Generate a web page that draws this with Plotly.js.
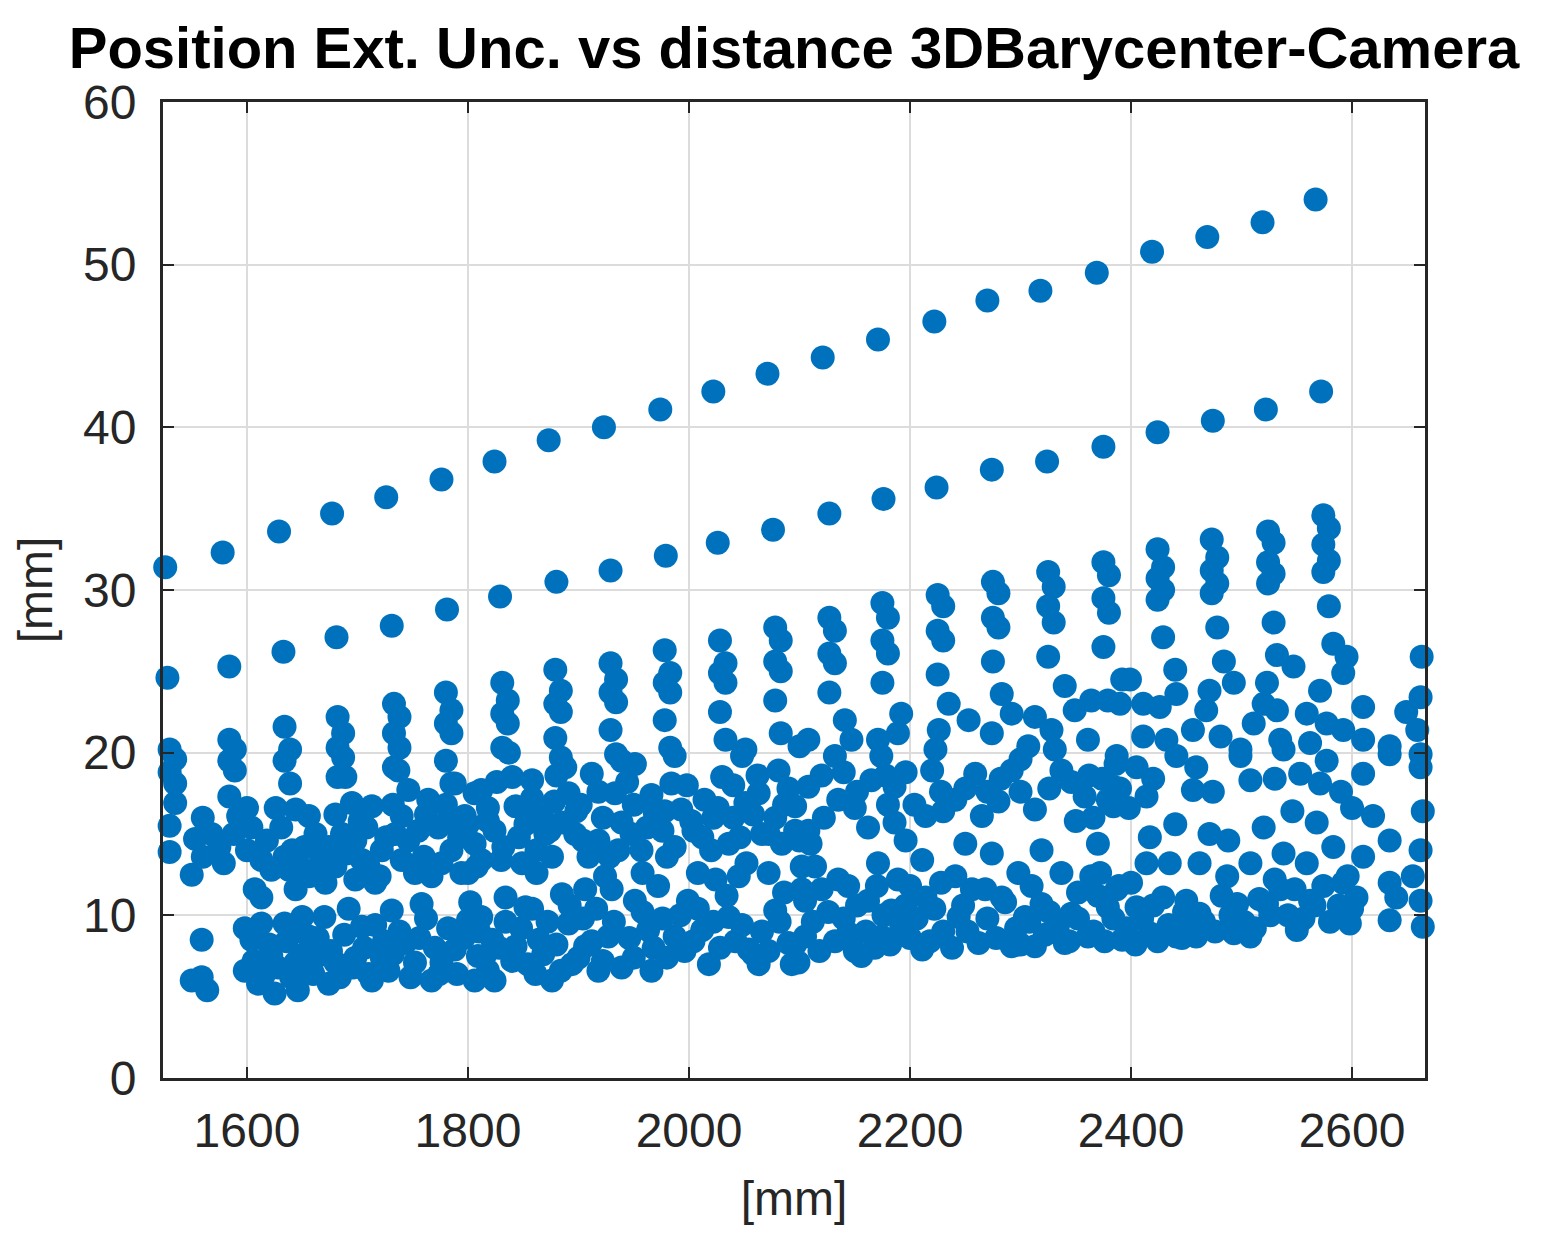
<!DOCTYPE html>
<html>
<head>
<meta charset="utf-8">
<script src="https://cdn.plot.ly/plotly-3.0.1.min.js"></script>
<style>
  html, body { margin: 0; padding: 0; background: #fff; }
  #chart { width: 1557px; height: 1255px; }
</style>
</head>
<body>
<div id="chart"></div>
<script>
// two straight "lines" of points at the top
var lineTopX = [1526, 1578, 1629, 1677, 1726, 1776, 1824, 1873, 1923, 1974, 2022, 2071, 2121, 2171, 2222, 2270, 2318, 2369, 2419, 2469, 2519, 2567];
var lineTopY = [31.4, 32.3, 33.6, 34.7, 35.7, 36.8, 37.9, 39.2, 40.0, 41.1, 42.2, 43.3, 44.3, 45.4, 46.5, 47.8, 48.4, 49.5, 50.8, 51.7, 52.6, 54.0];

var lineMidX = [1528, 1584, 1633, 1681, 1731, 1781, 1829, 1880, 1929, 1979, 2026, 2076, 2127, 2176, 2224, 2274, 2324, 2375, 2424, 2474, 2522, 2572];
var lineMidY = [24.6, 25.3, 26.2, 27.1, 27.8, 28.8, 29.6, 30.5, 31.2, 32.1, 32.9, 33.7, 34.7, 35.6, 36.3, 37.4, 37.9, 38.8, 39.7, 40.4, 41.1, 42.2];

// vertical streaks at the top of the lower cloud, one per camera distance step
var streakX = [1532, 1586, 1636, 1684, 1735, 1782, 1833, 1881, 1931, 1980, 2030, 2080, 2129, 2177, 2227, 2277, 2327, 2377, 2426, 2475, 2526, 2576];
var streakY = [
  [20.2, 19.6, 18.8, 18.1],
  [20.8, 20.2, 19.5, 18.9, 17.3],
  [21.6, 20.2, 19.5, 18.1],
  [22.2, 21.2, 20.3, 19.7, 18.5],
  [23.0, 22.2, 21.2, 20.3, 19.1],
  [23.7, 22.6, 21.8, 21.2, 19.5, 18.1],
  [24.3, 23.2, 22.4, 21.8, 20.3],
  [25.1, 23.8, 23.0, 22.5, 20.9, 19.7],
  [25.5, 24.5, 23.7, 23.1, 21.4, 19.9],
  [26.3, 24.9, 24.3, 23.7, 22.0, 20.3],
  [26.9, 25.5, 24.9, 24.3, 22.5, 20.8],
  [27.7, 26.9, 25.6, 25.0, 23.2, 21.2],
  [28.3, 27.5, 26.1, 25.5, 23.7],
  [29.2, 28.3, 26.9, 26.1, 24.3],
  [29.7, 29.0, 27.5, 26.9, 24.8],
  [30.5, 29.8, 28.3, 27.7, 25.6],
  [31.1, 30.2, 29.0, 28.0, 25.9],
  [31.7, 30.9, 29.5, 28.6, 26.5],
  [32.5, 31.4, 30.7, 30.0, 29.4, 27.1],
  [33.1, 32.0, 31.2, 30.4, 29.8, 27.7],
  [33.6, 32.9, 31.7, 31.0, 30.4, 28.0],
  [34.6, 33.8, 32.8, 31.8, 31.1, 29.0]
];

// scattered cloud, read region by region  [distance, uncertainty]
var cloudLeft = [
  [1535,16.9],[1530,15.5],[1530,13.9],[1550,12.5],[1553,14.7],[1568,15.0],[1579,13.2],[1592,16.1],
  [1604,15.4],[1613,13.4],[1607,11.6],[1613,11.1],[1631,15.4],[1644,16.5],[1656,16.1],[1641,14.0],
  [1638,12.8],[1644,11.6],[1656,12.4],[1671,12.0],[1674,14.2],[1686,15.0],[1695,16.9],[1713,16.7],
  [1698,14.6],[1704,13.4],[1698,12.2],[1716,12.0],[1722,14.0],[1740,16.1],[1746,17.7],[1764,17.1],
  [1746,14.6],[1752,12.6],[1767,12.4],[1773,15.4],[1788,18.1],[1797,16.1],[1806,17.5],[1794,12.6],
  [1806,14.4],[1785,14.0],[1737,18.9],[1689,18.5],
  [1559,8.5],[1559,6.2],[1564,5.4],[1550,6.0],[1598,6.6],[1604,8.5],[1613,9.5],[1610,5.8],
  [1625,5.2],[1622,7.5],[1634,9.5],[1650,9.9],[1656,8.7],[1644,7.1],[1646,5.4],[1662,7.4],
  [1674,5.8],[1680,7.1],[1704,9.3],[1698,7.4],[1713,6.0],[1722,7.4],[1731,10.3],[1758,10.7],
  [1743,8.3],[1752,7.1],[1767,6.0],[1776,7.1],[1788,7.9],[1800,9.7],[1809,7.5],[1806,6.0]
];

var cloudCentre = [
  [1837,20.0],[1812,17.7],[1840,18.5],[1858,18.3],[1843,16.7],[1824,15.2],[1812,13.4],[1846,14.8],
  [1849,13.2],[1867,16.1],[1888,19.1],[1912,18.7],[1891,17.5],[1885,15.7],[1897,15.0],[1876,13.6],
  [1909,13.6],[1939,19.5],[1951,19.3],[1933,17.5],[1939,15.7],[1936,14.0],[1957,14.0],[1969,16.3],
  [1984,18.1],[1987,19.8],[1993,16.5],[1987,14.2],[2014,17.1],[2012,14.8],[2030,18.5],[2048,19.8],
  [2051,16.9],[2036,14.4],[2063,17.5],[2066,15.0],[2081,18.9],[2096,16.7],[2096,15.2],[2102,13.0],
  [1834,11.1],[1852,10.5],[1812,9.9],[1822,8.5],[1815,7.5],[1824,6.0],[1843,8.1],[1864,8.5],
  [1861,6.4],[1876,6.0],[1885,11.3],[1906,11.6],[1891,9.5],[1906,8.1],[1894,7.0],[1918,6.6],
  [1930,11.6],[1927,8.7],[1939,6.8],[1951,10.9],[1972,11.8],[1963,9.1],[1966,6.6],[1987,8.7],
  [1999,10.9],[2012,9.1],[2018,7.0],[2024,12.2],[2045,12.4],[2036,9.9],[2054,7.9],[2063,7.0],
  [2072,12.6],[2078,10.3],[2090,8.3],[2093,7.0],[2102,11.6],[2051,20.2],[2100,20.4]
];

var cloudRight = [
  [2132,19.8],[2108,17.9],[2135,17.1],[2165,18.3],[2186,17.9],[2174,19.8],[2108,15.2],[2114,13.0],
  [2162,15.4],[2186,15.7],[2214,16.1],[2220,18.9],[2241,17.1],[2259,18.7],[2265,16.1],[2171,13.2],
  [2211,13.4],[2274,13.8],[2292,18.9],[2313,16.5],[2319,14.0],[2337,18.9],[2358,17.3],[2370,14.4],
  [2379,17.1],[2386,19.3],
  [2105,10.9],[2105,8.7],[2099,7.1],[2144,11.8],[2162,10.9],[2144,8.9],[2156,7.5],[2189,12.2],
  [2183,10.3],[2174,8.7],[2214,11.1],[2211,7.9],[2192,9.3],[2241,12.4],[2256,11.6],[2244,9.9],
  [2262,8.3],[2283,11.1],[2298,12.6],[2292,8.1],[2304,9.9],[2319,10.7],[2313,8.1],[2337,12.6],
  [2346,10.1],[2340,8.3],[2364,12.4],[2361,8.7],[2379,10.5],[2389,11.8],[2392,8.5],
  [2108,20.8],[2141,22.0],[2147,20.8],[2171,20.8],[2192,22.4],[2189,21.2],[2235,23.0],[2253,22.0],
  [2226,21.4],[2223,20.2],[2274,21.2],[2283,23.6],[2292,22.4],[2313,22.2],[2328,21.4],[2307,20.4],
  [2340,24.1],[2349,22.6],[2364,23.2],[2379,23.2],[2392,24.5],[2361,20.8],[2331,20.2]
];

var cloudFar = [
  [2399,24.5],[2390,23.0],[2411,23.0],[2440,25.1],[2441,23.6],[2426,22.8],[2411,21.0],[2432,20.8],
  [2484,25.6],[2493,24.3],[2471,23.8],[2468,22.6],[2456,21.4],[2481,21.0],[2499,20.2],[2532,26.0],
  [2547,25.3],[2523,24.3],[2520,23.0],[2511,21.8],[2532,22.6],[2535,20.8],[2583,26.7],[2595,25.9],
  [2592,24.9],[2571,23.8],[2559,22.4],[2577,21.8],[2562,20.6],[2610,22.8],[2592,21.4],[2610,20.8],
  [2634,20.4],[2663,25.9],[2662,23.4],[2649,22.5],[2659,21.4],[2662,19.9],
  [2387,19.8],[2384,17.9],[2384,16.7],[2405,19.1],[2414,17.3],[2441,19.8],[2459,19.1],[2456,17.7],
  [2499,19.8],[2508,18.3],[2538,20.2],[2553,18.7],[2571,18.1],[2577,19.5],[2610,18.7],[2634,19.9],
  [2662,19.1],[2664,16.4],[2619,16.1],[2634,14.6],[2662,14.0],[2568,15.7],[2520,15.4],[2471,15.0],
  [2417,14.8],
  [2387,11.6],[2414,13.2],[2435,13.2],[2462,13.2],[2405,10.5],[2399,8.5],[2417,8.9],[2429,11.1],
  [2450,10.9],[2459,8.7],[2441,8.7],[2462,10.1],[2487,12.4],[2508,13.2],[2496,10.7],[2493,8.9],
  [2508,8.7],[2538,13.8],[2535,11.6],[2523,10.7],[2550,9.1],[2562,10.9],[2559,13.2],[2583,14.2],
  [2592,12.0],[2604,11.1],[2598,9.5],[2610,13.6],[2634,12.0],[2640,11.1],[2634,9.7],[2655,12.4],
  [2662,10.9],[2664,9.3]
];

// extra points filling the dense lower band (about 6-12 mm)
var lowBand = [
  [1598,9.2],[1606,7.2],[1615,6.3],[1620,8.2],[1628,6.8],[1636,8.4],[1640,6.2],[1648,9.0],
  [1652,7.6],[1660,6.4],[1664,8.6],[1670,9.9],[1676,7.8],[1684,6.2],[1688,8.8],[1692,10.4],
  [1696,6.8],[1706,8.0],[1710,6.4],[1716,9.4],[1724,8.4],[1728,6.6],[1732,7.6],[1738,9.0],
  [1748,6.2],[1756,8.6],[1762,9.8],[1770,8.0],[1774,6.4],[1782,9.2],[1790,6.4],[1796,8.6],
  [1802,10.8],[1810,9.0],[1818,6.6],[1828,8.0],[1834,9.6],[1840,7.2],[1848,9.2],[1854,7.0],
  [1858,10.4],[1868,7.6],[1872,9.6],[1880,8.2],[1884,6.6],[1892,10.6],[1900,7.4],[1904,9.8],
  [1912,8.4],[1916,10.4],[1922,7.2],[1932,9.6],[1946,8.6],[1950,7.4],[1958,10.2],[1968,8.0],
  [1976,9.8],[1980,7.4],[1992,10.0],[1996,7.8],[2004,8.4],[2008,10.4],[2022,9.6],[2028,8.0],
  [2034,11.2],[2042,8.4],[2048,9.4],[2058,7.6],[2066,9.0],[2072,7.8],[2082,9.6],[2086,11.4],
  [2096,8.2],[2112,9.6],[2118,7.8],[2126,10.2],[2132,8.4],[2140,9.8],[2150,7.8],[2152,10.6],
  [2160,9.0],[2168,8.0],[2176,10.0],[2182,8.2],[2196,10.6],[2200,8.6],[2206,9.8],[2218,8.4],
  [2222,10.4],[2230,9.0],[2238,8.0],[2248,10.6],[2252,9.0],[2270,9.8],[2278,8.6],[2286,10.8],
  [2296,9.2],[2300,8.2],[2308,9.6],[2322,8.8],[2326,10.2],[2334,9.4],[2344,8.4],[2352,9.8],
  [2366,9.0],[2370,11.2],[2376,8.4],[2384,9.8],[2396,9.2],[2404,8.2],[2410,9.8],[2420,10.6],
  [2424,8.4],[2434,9.4],[2446,8.6],[2448,10.2],[2454,9.4],[2466,9.6],[2476,9.0],[2482,11.2],
  [2490,10.0],[2502,9.6],[2512,9.2],[2516,11.0],[2526,10.0],[2530,12.2],[2542,10.0],[2548,11.6],
  [2556,9.8],[2566,10.6],[2574,11.8],[2580,9.6],[2588,10.6],[2596,12.4],[2600,10.4],
  [2120,11.6],[2135,12.2],[2170,11.8],[2200,11.8],[2228,12.0],[2268,11.6],[2310,11.8],[2352,11.4],
  [2372,12.6],[2400,12.0]
];

// extra points in the middle band (about 12-20 mm)
var midBand = [
  [1560,16.0],[1600,14.0],[1622,12.8],[1652,14.2],[1662,12.8],[1680,13.0],[1708,15.4],[1720,12.4],
  [1734,15.0],[1760,13.6],[1780,16.8],[1800,12.6],[1818,15.8],[1830,13.4],[1856,16.6],[1862,12.6],
  [1870,15.0],[1902,16.8],[1918,14.6],[1924,12.4],[1950,16.8],[1958,12.6],[1976,15.2],[2002,15.8],
  [2008,12.6],[2022,16.0],[2040,16.0],[2052,13.2],[2072,15.0],[2086,16.8],[2110,14.4],[2122,16.0],
  [2150,16.6],[2180,16.8],[2196,14.6],[2228,17.6],[2250,14.4],[2280,17.0],[2300,19.6],[2350,15.8],
  [2362,18.6],[2398,16.6],[2420,18.4],[2440,15.6],[2474,17.6],[2488,14.6],[2530,18.4],[2546,16.4],
  [2590,17.6],[2600,16.6],
  [1560,13.6],[1575,14.2],[1588,15.0],[1600,16.6],[1618,14.6],[1626,16.6],[1634,13.6],[1648,13.0],
  [1662,15.0],[1666,13.8],[1680,16.2],[1690,13.8],[1702,15.8],[1710,13.0],[1726,14.8],[1732,16.8],
  [1740,13.4],[1755,15.2],[1762,16.2],[1776,13.2],[1782,15.8],[1792,14.8],[1800,15.6],[1808,13.0],
  [1818,16.6],[1826,18.2],[1832,14.2],[1852,15.6],[1858,17.2],[1862,14.0],[1874,15.2],[1878,17.0],
  [1880,18.6],[1898,16.4],[1904,14.6],[1918,17.6],[1922,16.0],[1928,13.6],[1944,18.2],[1948,15.0],
  [1962,15.4],[1966,17.4],[1978,16.4],[1980,13.6],[1998,18.0],[2004,15.2],[2020,14.0],[2026,16.6],
  [2040,18.0],[2046,14.8],[2058,16.2],[2062,18.6],[2078,16.0],[2084,14.4],[2090,17.8],[2100,14.6],
  [2120,18.6],[2140,18.8],[2152,17.6],[2178,18.6],[2196,18.8],[2204,16.8],[2230,16.4],[2250,17.8],
  [2270,17.6],[2282,18.4],[2300,17.6],[2326,17.8],[2346,18.2],[2366,16.0],[2374,18.4],[2390,17.8]
];

var xs = [], ys = [];
lineTopX.forEach((v, i) => { xs.push(v); ys.push(lineTopY[i]); });
lineMidX.forEach((v, i) => { xs.push(v); ys.push(lineMidY[i]); });
streakX.forEach((v, i) => {
  streakY[i].forEach((y, j) => { xs.push(v + (j % 2 ? 3 : -2)); ys.push(y); });
});
[cloudLeft, cloudCentre, cloudRight, cloudFar, lowBand, midBand].forEach(group => {
  group.forEach(p => { xs.push(p[0]); ys.push(p[1]); });
});

var trace = {
  x: xs,
  y: ys,
  type: 'scatter',
  mode: 'markers',
  cliponaxis: false,
  marker: { color: '#0072BD', size: 24, line: { width: 0 } },
  hoverinfo: 'x+y'
};

var tickFont = { family: 'Liberation Sans, Arial, sans-serif', size: 48, color: '#262626' };

var layout = {
  width: 1557,
  height: 1255,
  margin: { l: 163, r: 132, t: 102, b: 177 },
  paper_bgcolor: '#ffffff',
  plot_bgcolor: '#ffffff',
  showlegend: false,
  title: {
    text: 'Position Ext. Unc. vs distance 3DBarycenter-Camera',
    font: { family: 'Liberation Sans, Arial, sans-serif', size: 58, color: '#000000', weight: 'bold' },
    x: 0.5, xref: 'paper',
    y: 0.962, yref: 'container', yanchor: 'middle'
  },
  xaxis: {
    range: [1524, 2666],
    tick0: 1600, dtick: 200,
    ticks: 'inside', ticklen: 11, tickwidth: 2, tickcolor: '#262626',
    ticklabelstandoff: 8,
    showline: true, linecolor: '#262626', linewidth: 3, mirror: 'ticks',
    showgrid: true, gridcolor: '#dcdcdc', gridwidth: 2,
    zeroline: false,
    tickfont: tickFont,
    title: { text: '[mm]', font: tickFont, standoff: 26 }
  },
  yaxis: {
    range: [0, 60],
    dtick: 10,
    ticks: 'inside', ticklen: 11, tickwidth: 2, tickcolor: '#262626',
    ticklabelstandoff: 14,
    showline: true, linecolor: '#262626', linewidth: 3, mirror: 'ticks',
    showgrid: true, gridcolor: '#dcdcdc', gridwidth: 2,
    zeroline: false,
    tickfont: tickFont,
    title: { text: '[mm]', font: tickFont, standoff: 16 }
  }
};

Plotly.newPlot('chart', [trace], layout, { displayModeBar: false, staticPlot: true });
</script>
</body>
</html>
